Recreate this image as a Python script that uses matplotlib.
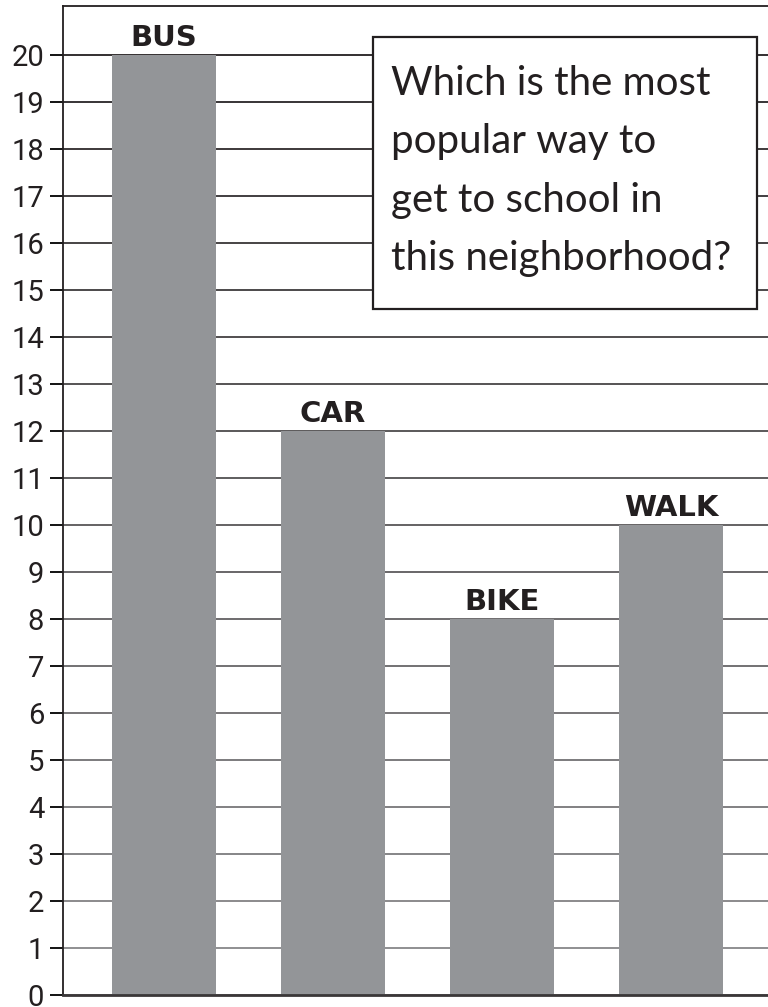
import matplotlib
matplotlib.use("Agg")
import matplotlib.pyplot as plt
from matplotlib.patches import Rectangle
import numpy as np

categories = ["BUS", "CAR", "BIKE", "WALK"]
values = [20, 12, 8, 10]
yticks = list(range(0, 21))
question_lines = ["Which is the most", "popular way to", "get to school in", "this neighborhood?"]

W, H = 768, 1007
fig = plt.figure(figsize=(W / 100, H / 100), dpi=100)
ax = fig.add_axes([62.7 / W, (H - 995) / H, 1 - 62.7 / W, (995 - 6) / H])

x = np.arange(len(categories))
ax.bar(x, values, width=0.615, color="#939598", zorder=2)
ax.set_xlim(-0.6, 3.574)
ax.set_ylim(0, 21.04)

ax.set_yticks(yticks)
ax.set_yticklabels([str(t) for t in yticks], family="Roboto", fontsize=21, color="#231f20")
ax.set_xticks([])
ax.tick_params(axis="y", length=9.4, width=1.3, pad=4.0, direction="out")
ax.yaxis.grid(True, linewidth=1.3, zorder=1)
ax.set_axisbelow(True)

# gridline colour fades from dark at top to grey at bottom
dark = np.array([0x23, 0x1f, 0x20]) / 255
light = np.array([0x8c, 0x8c, 0x8e]) / 255
for t, tick in zip(yticks, ax.yaxis.get_major_ticks()):
    f = t / 20
    c = tuple(light * (1 - f) + dark * f)
    tick.gridline.set_color(c)
    tick.tick1line.set_color(c)

ax.spines["right"].set_visible(False)
ax.spines["left"].set_color("#231f20")
ax.spines["left"].set_linewidth(1.3)
ax.spines["top"].set_color("#231f20")
ax.spines["top"].set_linewidth(1.3)
ax.spines["bottom"].set_color("#3a3738")
ax.spines["bottom"].set_linewidth(2.0)
ax.spines["bottom"].set_zorder(3)

for xi, v, lab in zip(x, values, categories):
    ax.annotate(lab, (xi, v), xytext=(0, 6.5), textcoords="offset points",
                ha="center", va="baseline", family="DejaVu Sans", fontweight="bold",
                fontsize=21, color="#231f20")

# question box
bx0, by0, bx1, by1 = 373, 37, 757, 309
fig.patches.append(Rectangle((bx0 / W, 1 - by1 / H), (bx1 - bx0) / W, (by1 - by0) / H,
                             transform=fig.transFigure, facecolor="white",
                             edgecolor="#231f20", linewidth=1.6, zorder=5))
baselines = [95, 153, 212, 270]
for line, b in zip(question_lines, baselines):
    fig.text(391 / W, 1 - b / H, line, ha="left", va="baseline", family="Lato",
             fontsize=29, color="#231f20", zorder=6)

fig.savefig("out.png", dpi=100)
